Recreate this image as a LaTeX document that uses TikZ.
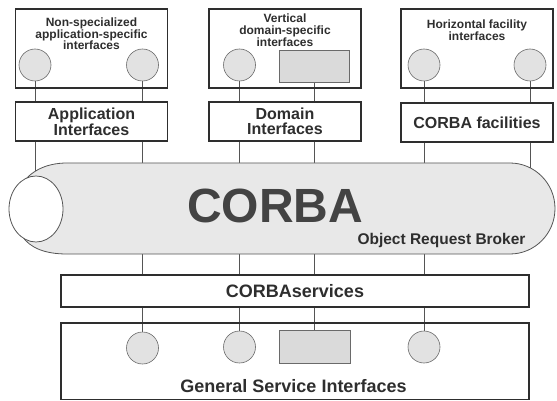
\documentclass[tikz,border=0pt]{standalone}
\usepackage{fontspec}
\setmainfont{Liberation Sans}
\usetikzlibrary{backgrounds}

\definecolor{ink}{HTML}{2E2E2E}
\definecolor{linkcol}{HTML}{555555}
\definecolor{portline}{HTML}{6A6A6A}
\definecolor{portfill}{HTML}{E2E2E2}
\definecolor{rectfill}{HTML}{DADADA}
\definecolor{orbfill}{HTML}{E8E8E8}

\begin{document}
\begin{tikzpicture}[x=1pt,y=-1pt,
  frame/.style={rectangle, draw=ink, line width=1.1pt, inner sep=0pt},
  whitebox/.style={frame, fill=white},
  port/.style={circle, draw=portline, fill=portfill, line width=0.6pt,
               minimum size=32pt, inner sep=0pt},
  portrect/.style={rectangle, draw=portline, fill=rectfill, line width=0.6pt,
                   inner sep=0pt},
  link/.style={draw=linkcol, line width=0.7pt},
  smalltxt/.style={font=\fontsize{12}{11.7}\selectfont\bfseries, text=ink,
                   align=center, inner sep=0pt},
  midtxt/.style={font=\fontsize{16}{14.5}\selectfont\bfseries, text=ink,
                 align=center, inner sep=0pt},
  bigtxt/.style={font=\fontsize{18}{20}\selectfont\bfseries, text=ink,
                 align=center, inner sep=0pt},
]
\useasboundingbox (0,0) rectangle (557,401);

% upper interface groups
\node[frame, minimum width=152pt, minimum height=79pt] (grpA) at (91.5,48.5) {};
\node[frame, minimum width=152pt, minimum height=79pt] (grpB) at (285,48.5) {};
\node[frame, minimum width=152pt, minimum height=79pt] (grpC) at (477,48.5) {};

\node[smalltxt, anchor=north] (grpAtxt) at (91.5,17.5)
  {Non-specialized\\application-specific\\interfaces};
\node[smalltxt, anchor=north] (grpBtxt) at (285,14)
  {Vertical\\domain-specific\\interfaces};
\node[smalltxt, anchor=north] (grpCtxt) at (477,19.5)
  {Horizontal facility\\interfaces};

\node[port] (pA1) at (35,65) {};
\node[port] (pA2) at (142.5,65) {};
\node[port] (pB1) at (239.5,65) {};
\node[portrect, minimum width=70pt, minimum height=32pt] (rB) at (314.5,66) {};
\node[port] (pC1) at (424,65) {};
\node[port] (pC2) at (530,65) {};

% interface layer boxes
\node[whitebox, midtxt, minimum width=152pt, minimum height=39pt] (appif) at (91.5,121.5)
  {Application\\Interfaces};
\node[whitebox, midtxt, minimum width=152pt, minimum height=39pt] (domif) at (285,121.5)
  {Domain\\Interfaces};
\node[whitebox, midtxt, minimum width=152pt, minimum height=39pt] (facil) at (477,122.5)
  {CORBA facilities};

% object request broker tube
\coordinate (orb) at (285,208.5);
\draw[draw=linkcol, line width=0.8pt, fill=orbfill]
  (67,163) -- (510,163)
  .. controls (534.8,163) and (555,183.4) .. (555,208.5)
  .. controls (555,233.6) and (534.8,254) .. (510,254)
  -- (67,254)
  .. controls (45,254) and (30,248) .. (22,236)
  -- (22,184)
  .. controls (30,172) and (45,163) .. (67,163) -- cycle;
\draw[draw=linkcol, line width=0.8pt, fill=white] (36,209) ellipse [x radius=27pt, y radius=33pt];
\node[font=\fontsize{48}{50}\selectfont\bfseries, text=ink!90, inner sep=0pt] (corba) at (275,205.5) {CORBA};
\node[midtxt, font=\fontsize{15.5}{17}\selectfont\bfseries] (orbtxt) at (441.5,240) {Object Request Broker};

% services
\node[whitebox, bigtxt, minimum width=468pt, minimum height=32pt] (svc) at (295,291)
  {CORBAservices};
\node[frame, minimum width=468pt, minimum height=76.5pt] (gsi) at (295,361.25) {};
\node[bigtxt] (gsitxt) at (293.5,386) {General Service Interfaces};

\node[port] (sA) at (142.5,348) {};
\node[port] (sB) at (239.5,347) {};
\node[portrect, minimum width=71pt, minimum height=33pt] (sR) at (314.5,346.5) {};
\node[port] (sC) at (424,347) {};

% connectors run behind the boxes and the broker
\begin{scope}[on background layer]
  \draw[link] (pA1) -- (pA1 |- orb);
  \draw[link] (pA2) -- (sA);
  \draw[link] (pB1) -- (sB);
  \draw[link] (rB) -- (sR);
  \draw[link] (pC1) -- (sC);
  \draw[link] (pC2) -- (pC2 |- orb);
\end{scope}
\end{tikzpicture}
\end{document}
